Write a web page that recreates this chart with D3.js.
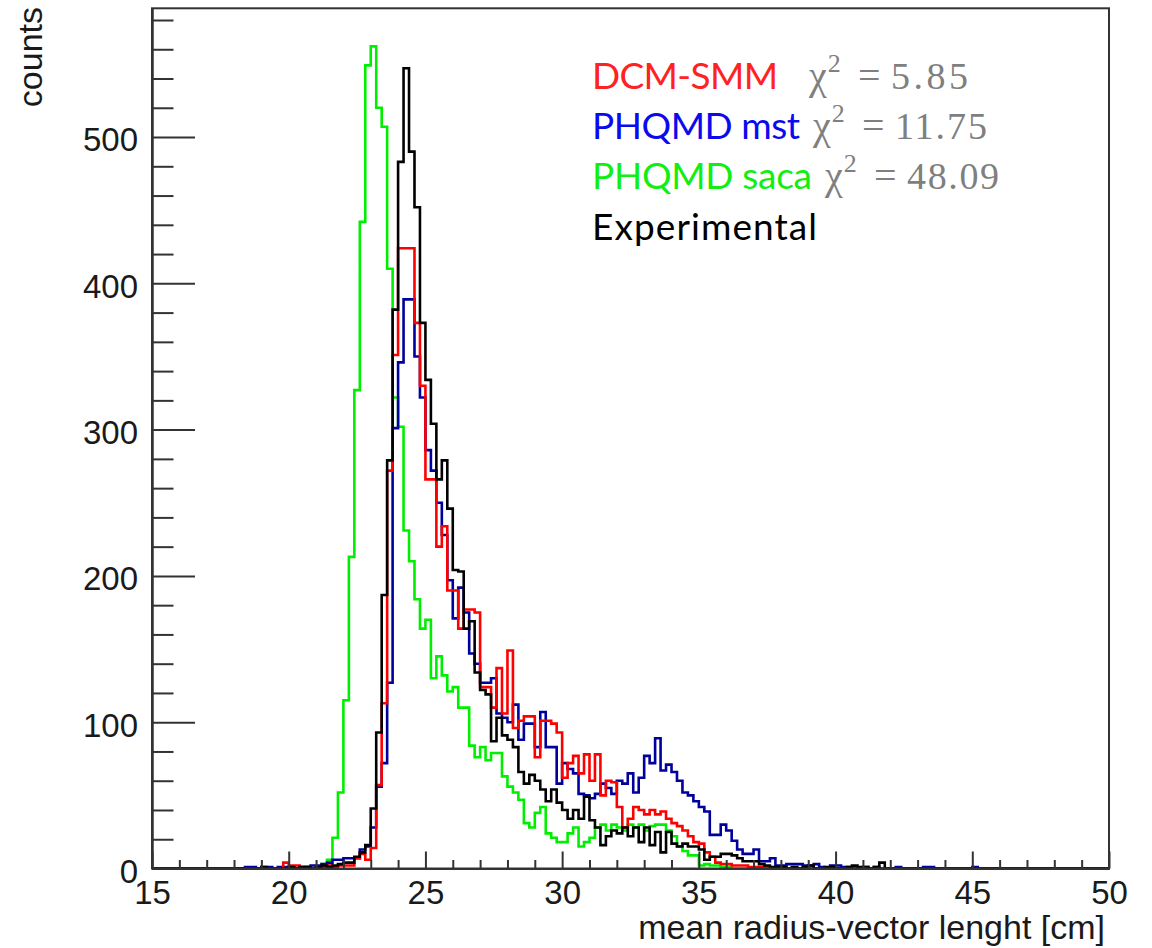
<!DOCTYPE html>
<html>
<head>
<meta charset="utf-8">
<script src="https://cdn.jsdelivr.net/npm/d3@7"></script>
<style>
  html, body { margin: 0; padding: 0; background: #fff; }
  svg { display: block; }
</style>
</head>
<body>
<svg id="chart" width="1152" height="948"></svg>
<script>
// histogram binning: 0.2 cm bins, arrays start at 18.0 cm
const binStart = 18.0;
const binWidth = 0.2;
const xDomain = [15, 50];
const yMax = 588;

const xMajor = [15, 20, 25, 30, 35, 40, 45, 50];
const yMajor = [0, 100, 200, 300, 400, 500];

// PHQMD saca (green)
const saca = [
  0,0,0,0,0,0,0,0,0,0,0,0,0,
  1,0,1,3,6,21,52,115,213,327,442,549,
  562,520,507,410,322,302,231,210,184,164,
  170,130,145,132,121,124,110,110,84,76,
  83,74,79,79,63,56,52,47,31,28,
  38,42,24,21,18,18,24,28,15,18,
  21,28,30,26,30,28,26,30,28,30,
  26,29,30,30,26,22,15,12,9,9,
  2,3,2,2,1,1,0,0,0,0
];

// PHQMD mst (blue)
const mst = [
  0,0,1,1,0,1,1,0,1,1,
  1,0,1,1,2,
  2,3,4,6,6,7,7,7,13,15,
  28,56,72,127,301,346,389,389,350,322,
  286,272,250,228,197,171,192,175,147,140,
  127,127,130,106,103,100,112,88,99,99,
  83,107,83,83,58,72,68,65,51,50,
  48,51,58,55,51,60,58,65,52,62,
  77,72,89,67,71,66,60,52,50,46,
  42,39,23,23,30,26,19,13,10,10,
  13,5,5,7,2,2,3,3,3,2,
  2,3,1,0,2,2,1,1,1,0,
  1,0,1,0,0,0,1,0,0,0,
  0,1,1,0,0,0,0,0,0,0,
  1,0,0,0,0
];

// DCM-SMM (red)
const dcm = [
  0,0,0,0,0,0,0,0,0,4,
  2,2,1,1,0,
  1,1,2,1,2,2,2,7,10,6,
  14,57,113,272,351,424,424,424,373,330,
  266,266,220,234,190,190,164,177,177,175,
  124,124,110,137,106,149,96,101,104,104,
  76,101,101,99,93,62,72,77,65,78,
  60,78,50,60,59,42,28,34,42,40,
  37,40,37,39,34,31,29,26,22,18,
  17,11,8,4,3,3,2,2,2,1,
  1,1,1,0,0,0,0,0,0,0
];

// Experimental (black)
const expData = [
  0,0,0,0,0,1,0,0,0,0,
  1,0,1,1,0,
  1,2,1,2,3,4,4,8,11,16,
  41,93,187,279,382,483,547,490,452,373,
  334,304,266,279,246,204,203,164,169,134,
  122,119,87,103,91,88,83,66,58,64,
  60,54,46,54,45,40,34,40,34,49,
  33,28,16,22,26,24,28,22,28,18,
  28,16,25,11,25,17,15,17,15,15,
  13,6,8,8,10,10,9,7,5,5,
  5,3,2,1,1,1,0,1,0,1,
  2,0,0,1,1,0,0,1,2,1,
  1,0,1,4,0,0,0,0,0,0
];

const seriesColors = ['#00ee00', '#00009c', '#ff0000', '#000000'];
const seriesValues = [saca, mst, dcm, expData];

const legendLabels = ['DCM-SMM', 'PHQMD mst', 'PHQMD saca', 'Experimental'];
const legendColors = ['#ff2222', '#0a0aee', '#11ee11', '#000000'];
const chiValues = ['5.85', '11.75', '48.09', null];

const svg = d3.select('#chart');

const x = d3.scaleLinear().domain(xDomain).range([152, 1109]);
const y = d3.scaleLinear().domain([0, yMax]).range([868.5, 8.3]);

// build step points for a series over the full axis range
function toBins(values) {
  const nBins = Math.round((xDomain[1] - xDomain[0]) / binWidth);
  const pts = [];
  for (let k = 0; k < nBins; k++) {
    const lo = xDomain[0] + k * binWidth;
    const idx = Math.round((lo - binStart) / binWidth);
    const v = (idx >= 0 && idx < values.length) ? values[idx] : 0;
    pts.push({ x: lo, v: v });
  }
  pts.push({ x: xDomain[1], v: pts[pts.length - 1].v });
  return pts;
}

const line = d3.line()
  .x(d => x(d.x))
  .y(d => y(d.v))
  .curve(d3.curveStepAfter);

svg.append('defs').append('clipPath').attr('id', 'plotclip')
  .append('rect')
  .attr('x', x(xDomain[0])).attr('y', y(yMax))
  .attr('width', x(xDomain[1]) - x(xDomain[0]))
  .attr('height', y(0) - y(yMax));

const hist = svg.append('g').attr('clip-path', 'url(#plotclip)');
seriesValues.forEach((vals, i) => {
  hist.append('path')
    .datum(toBins(vals))
    .attr('fill', 'none')
    .attr('stroke', seriesColors[i])
    .attr('stroke-width', 2.6)
    .attr('stroke-linejoin', 'miter')
    .attr('d', line);
});

// frame
svg.append('rect')
  .attr('x', x(xDomain[0])).attr('y', y(yMax))
  .attr('width', x(xDomain[1]) - x(xDomain[0]))
  .attr('height', y(0) - y(yMax))
  .attr('fill', 'none')
  .attr('stroke', '#333')
  .attr('stroke-width', 2);

const axisColor = '#333';
const labelFont = '"Liberation Sans", Arial, sans-serif';

// y axis: major + minor ticks pointing inward
const yMinorTicks = d3.range(0, yMax + 1, 20).filter(v => v % 100 !== 0);
const yAxisMinor = svg.append('g')
  .attr('transform', `translate(${x(xDomain[0])},0)`)
  .call(d3.axisLeft(y).tickValues(yMinorTicks).tickSize(-21.5).tickSizeOuter(0).tickFormat(''));
const yAxis = svg.append('g')
  .attr('transform', `translate(${x(xDomain[0])},0)`)
  .call(d3.axisLeft(y).tickValues(yMajor).tickSize(-43).tickSizeOuter(0).tickPadding(14));

// x axis: major + minor
const xMinorTicks = d3.range(xDomain[0], xDomain[1] + 1, 1).filter(v => v % 5 !== 0);
const xAxisMinor = svg.append('g')
  .attr('transform', `translate(0,${y(0)})`)
  .call(d3.axisBottom(x).tickValues(xMinorTicks).tickSize(-8.5).tickSizeOuter(0).tickFormat(''));
const xAxis = svg.append('g')
  .attr('transform', `translate(0,${y(0)})`)
  .call(d3.axisBottom(x).tickValues(xMajor).tickSize(-17).tickSizeOuter(0).tickPadding(12));

[yAxisMinor, yAxis, xAxisMinor, xAxis].forEach(g => {
  g.select('.domain').attr('stroke', axisColor).attr('stroke-width', 2);
  g.selectAll('.tick line').attr('stroke', axisColor).attr('stroke-width', 2);
  g.selectAll('.tick text')
    .attr('fill', '#1a1a1a')
    .style('font-family', labelFont)
    .style('font-size', '33px');
});
yAxis.selectAll('.tick text').attr('dy', '0.42em');

// axis titles
svg.append('text')
  .attr('x', 1105).attr('y', 939)
  .attr('text-anchor', 'end')
  .style('font-family', labelFont)
  .style('font-size', '34px')
  .attr('fill', '#1a1a1a')
  .text('mean radius-vector lenght [cm]');

svg.append('text')
  .attr('transform', 'translate(42,7) rotate(-90)')
  .attr('text-anchor', 'end')
  .style('font-family', labelFont)
  .style('font-size', '34px')
  .attr('fill', '#1a1a1a')
  .text('counts');

// legend block
const legendX = 592;
const legendBase = [89, 139, 189, 240];
const legendWidths = [186, 208, 220, 225];
const chiX = [809, 813, 825];
const serif = '"Liberation Serif", "Times New Roman", serif';

const leg = svg.append('g');
legendLabels.forEach((lab, i) => {
  leg.append('text')
    .attr('x', legendX).attr('y', legendBase[i])
    .attr('fill', legendColors[i])
    .style('font-family', 'Lato, "Open Sans", sans-serif')
    .style('font-size', '37px')
    .attr('textLength', legendWidths[i])
    .text(lab);
  if (chiValues[i] !== null) {
    const cx = chiX[i];
    const t = leg.append('text')
      .attr('x', cx).attr('y', legendBase[i])
      .attr('fill', '#7f7f7f')
      .style('font-family', serif)
      .style('font-size', '40px');
    t.append('tspan').text('\u03C7');
    t.append('tspan').attr('dy', -17).attr('dx', 1).style('font-size', '26px').text('2');
    leg.append('text')
      .attr('x', cx + 49).attr('y', legendBase[i])
      .attr('fill', '#7f7f7f')
      .style('font-family', serif)
      .style('font-size', '40px')
      .text('=');
    leg.append('text')
      .attr('x', cx + 82).attr('y', legendBase[i])
      .attr('fill', '#7f7f7f')
      .style('font-family', serif)
      .style('font-size', '38px')
      .attr('textLength', chiValues[i].length === 4 ? 77 : 92)
      .text(chiValues[i]);
  }
});
</script>
</body>
</html>
